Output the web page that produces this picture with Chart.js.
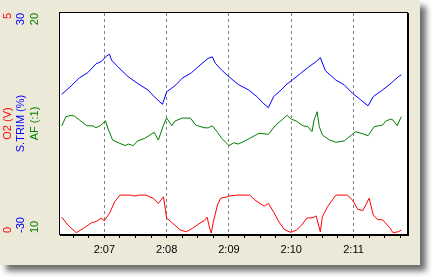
<!DOCTYPE html>
<html>
<head>
<meta charset="utf-8">
<script src="https://cdn.jsdelivr.net/npm/chart.js@4/dist/chart.umd.min.js"></script>
<style>
	body { margin: 0; background: #ffffff; }
	#panel {
		position: absolute;
		left: 0;
		top: 0;
		width: 420px;
		height: 265px;
		background: #ece9d8;
		box-shadow: 6px 6px 6px #6e6e6e;
	}
</style>
</head>
<body>
<div id="panel"><canvas id="myChart" width="420" height="265"></canvas></div>
<script>
// time is seconds after 2:00:00
var o2Times = [379, 385, 393, 400, 408, 412, 417, 420, 425, 430, 435, 445, 449, 453, 460, 467, 472, 477, 480, 485, 489, 493, 499, 505, 511, 516, 519, 521, 523, 525, 529, 532, 538, 540, 548, 560, 565, 574, 578, 583, 588, 593, 598, 600, 605, 610, 615, 621, 624, 628, 630, 635, 643, 654, 659, 664, 669, 675, 679, 683, 688, 695, 698, 703, 706];
var o2Values = [0.38, 0.20, 0.03, 0.13, 0.26, 0.28, 0.36, 0.30, 0.47, 0.73, 0.88, 0.88, 0.86, 0.88, 0.88, 0.81, 0.69, 0.84, 0.36, 0.26, 0.18, 0.09, 0.05, 0.13, 0.23, 0.30, 0.38, 0.17, 0.02, 0.28, 0.66, 0.81, 0.84, 0.86, 0.88, 0.88, 0.77, 0.63, 0.69, 0.50, 0.28, 0.11, 0.05, 0.04, 0.09, 0.20, 0.36, 0.37, 0.41, 0.05, 0.39, 0.62, 0.88, 0.88, 0.77, 0.56, 0.53, 0.81, 0.43, 0.33, 0.32, 0.14, 0.03, 0.05, 0.09];

var trimTimes = [379, 388, 396, 404, 412, 417, 422, 425, 427, 433, 443, 452, 462, 468, 476, 480, 485, 489, 495, 504, 514, 520, 524, 527, 533, 540, 549, 559, 567, 573, 578, 583, 591, 595, 601, 609, 617, 624, 628, 633, 643, 651, 659, 667, 674, 679, 688, 696, 703, 706];
var trimValues = [7.9, 10.2, 12.4, 13.8, 16.2, 16.8, 18.3, 18.8, 17.2, 15.4, 12.7, 10.9, 9.1, 7.3, 5.2, 8.6, 9.6, 10.5, 12.3, 13.8, 16.3, 17.7, 18.1, 16.3, 14.5, 12.7, 10.6, 9.1, 7.3, 5.5, 4.3, 7.3, 9.3, 10.5, 11.8, 13.6, 15.4, 16.8, 17.9, 14.3, 11.8, 10.5, 8.2, 6.4, 4.8, 7.3, 9.1, 10.9, 12.7, 13.2];

var afTimes = [379, 383, 388, 391, 396, 403, 409, 412, 417, 421, 424, 428, 435, 440, 443, 448, 452, 459, 464, 468, 472, 477, 480, 485, 488, 495, 503, 508, 516, 520, 524, 529, 533, 538, 540, 545, 549, 557, 569, 578, 585, 591, 596, 600, 605, 611, 616, 620, 622, 625, 627, 630, 637, 643, 651, 658, 662, 667, 674, 680, 688, 691, 696, 698, 702, 706];
var afValues = [14.89, 15.31, 15.37, 15.34, 15.16, 14.90, 14.89, 14.81, 14.93, 15.13, 14.71, 14.25, 14.10, 14.00, 14.07, 14.00, 14.21, 14.33, 14.48, 14.60, 14.25, 14.93, 15.25, 14.90, 15.11, 15.25, 15.24, 14.93, 14.81, 14.80, 14.90, 14.60, 14.33, 14.10, 14.00, 14.13, 14.07, 14.25, 14.56, 14.51, 14.93, 15.16, 15.37, 15.20, 15.11, 14.90, 14.86, 14.63, 15.16, 15.53, 14.86, 14.48, 14.25, 14.15, 14.21, 14.48, 14.63, 14.56, 14.45, 14.86, 14.93, 15.11, 15.20, 15.16, 14.90, 15.31];

var minuteTimes = [420, 480, 540, 600, 660];
var minuteLabels = ["2:07", "2:08", "2:09", "2:10", "2:11"];

const FONT = "Liberation Sans, Arial, sans-serif";

function toPoints(times, values) {
	return times.map((t, i) => ({ x: t, y: values[i] }));
}

// axis captions on the left, rotated like the original
var leftAxes = [
	{ x: 8, color: "#ff0000", title: "O2 (V)", min: "0", max: "5" },
	{ x: 21, color: "#0000ff", title: "S.TRIM (%)", min: "-30", max: "30" },
	{ x: 35, color: "#008000", title: "AF (:1)", min: "10", max: "20" },
];

const leftLabels = {
	id: "leftLabels",
	afterDraw(chart) {
		var ctx = chart.ctx;
		var area = chart.chartArea;
		ctx.save();
		ctx.font = "11px " + FONT;
		ctx.textBaseline = "middle";
		leftAxes.forEach((a) => {
			ctx.fillStyle = a.color;
			var items = [
				{ y: area.bottom - 1, text: a.min, align: "left" },
				{ y: area.top, text: a.max, align: "right" },
				{ y: (area.top + area.bottom) / 2, text: a.title, align: "center" },
			];
			items.forEach((it) => {
				ctx.save();
				ctx.translate(a.x, it.y);
				ctx.rotate(-Math.PI / 2);
				ctx.textAlign = it.align;
				ctx.fillText(it.text, 0, 0);
				ctx.restore();
			});
		});
		ctx.restore();
	},
};

const frame = {
	id: "frame",
	beforeDraw(chart) {
		var ctx = chart.ctx;
		var a = chart.chartArea;
		ctx.save();
		ctx.fillStyle = "#ffffff";
		ctx.fillRect(a.left, a.top, a.right - a.left, a.bottom - a.top);
		ctx.restore();
	},
	afterDraw(chart) {
		var ctx = chart.ctx;
		var a = chart.chartArea;
		ctx.save();
		ctx.strokeStyle = "#000000";
		ctx.lineWidth = 1;
		ctx.strokeRect(Math.round(a.left) - 0.5, Math.round(a.top) - 0.5, Math.round(a.right - a.left) + 1, Math.round(a.bottom - a.top) + 1);
		ctx.beginPath();
		ctx.moveTo(Math.round(a.right) + 1.5, Math.round(a.top));
		ctx.lineTo(Math.round(a.right) + 1.5, Math.round(a.bottom) + 2);
		ctx.moveTo(Math.round(a.left), Math.round(a.bottom) + 1.5);
		ctx.lineTo(Math.round(a.right) + 2, Math.round(a.bottom) + 1.5);
		ctx.stroke();
		ctx.restore();
	},
};

function lineSet(label, times, values, color, axis) {
	return {
		label: label,
		data: toPoints(times, values),
		borderColor: color,
		borderWidth: 1,
		pointRadius: 0,
		tension: 0,
		fill: false,
		yAxisID: axis,
	};
}

const chart = new Chart(document.getElementById("myChart").getContext("2d"), {
	type: "line",
	data: {
		datasets: [
			lineSet("S.TRIM (%)", trimTimes, trimValues, "#0000ff", "yTrim"),
			lineSet("AF (:1)", afTimes, afValues, "#008000", "yAf"),
			lineSet("O2 (V)", o2Times, o2Values, "#ff0000", "yO2"),
		],
	},
	options: {
		responsive: false,
		animation: false,
		layout: {
			padding: { left: 60, top: 13, right: 13, bottom: 9 },
		},
		plugins: {
			legend: { display: false },
			tooltip: { enabled: false },
		},
		scales: {
			x: {
				type: "linear",
				min: 377.3,
				max: 711.5,
				afterFit: (scale) => {
					scale.height = 22;
				},
				border: { display: false, dash: [3, 3] },
				grid: {
					color: (c) => (c.tick && c.tick.value % 60 === 0 ? "#808080" : "rgba(0,0,0,0)"),
					tickColor: "#000000",
					tickLength: 4,
					lineWidth: 1,
				},
				ticks: {
					stepSize: 15,
					includeBounds: false,
					autoSkip: false,
					maxRotation: 0,
					padding: 5,
					color: "#000000",
					font: { family: FONT, size: 11 },
					callback: (v) => {
						var i = minuteTimes.indexOf(v);
						return i >= 0 ? minuteLabels[i] : "";
					},
				},
			},
			yO2: { type: "linear", display: false, min: 0, max: 5 },
			yTrim: { type: "linear", display: false, min: -30, max: 30 },
			yAf: { type: "linear", display: false, min: 10, max: 20 },
		},
	},
	plugins: [frame, leftLabels],
});
</script>
</body>
</html>
